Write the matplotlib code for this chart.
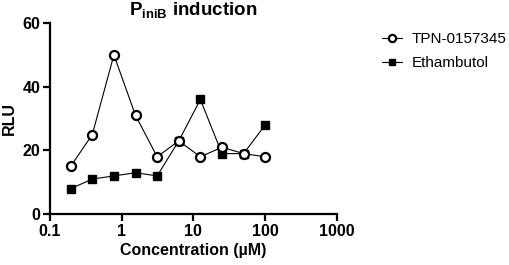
import matplotlib
matplotlib.use('Agg')
import matplotlib.pyplot as plt
from matplotlib.ticker import NullLocator, FixedFormatter

conc = [0.195, 0.39, 0.78, 1.56, 3.125, 6.25, 12.5, 25, 50, 100]
tpn = [15, 25, 50, 31, 18, 23, 18, 21, 19, 18]
emb = [8, 11, 12, 13, 12, 23, 36, 19, 19, 28]
xticks = [0.1, 1, 10, 100, 1000]
xlabels = ['0.1', '1', '10', '100', '1000']
yticks = [0, 20, 40, 60]

plt.rcParams['font.family'] = ['Liberation Sans', 'DejaVu Sans']
plt.rcParams['mathtext.fontset'] = 'custom'
plt.rcParams['mathtext.bf'] = 'Liberation Sans:bold'
plt.rcParams['mathtext.rm'] = 'Liberation Sans:bold'

fig = plt.figure(figsize=(5.09, 2.65), dpi=100)
ax = fig.add_axes([0.098, 0.192, 0.564, 0.721])

ax.plot(conc, tpn, color='black', lw=0.8, marker='o', ms=6.5,
        mfc='white', mec='black', mew=1.6, label='TPN-0157345', zorder=3)
ax.plot(conc, emb, color='black', lw=0.8, marker='s', ms=6,
        mfc='black', mec='black', label='Ethambutol', zorder=2)

ax.set_xscale('log')
ax.set_xlim(0.1, 1000)
ax.set_ylim(0, 60)
ax.set_xticks(xticks)
ax.xaxis.set_major_formatter(FixedFormatter(xlabels))
ax.xaxis.set_minor_locator(NullLocator())
ax.set_yticks(yticks)

for s in ['top', 'right']:
    ax.spines[s].set_visible(False)
for s in ['left', 'bottom']:
    ax.spines[s].set_linewidth(1.6)
ax.tick_params(width=1.6, length=5, labelsize=11.5, pad=2)
for lab in ax.get_xticklabels() + ax.get_yticklabels():
    lab.set_fontweight('bold')

ax.set_xlabel('Concentration (\u00b5M)', fontsize=11.5, fontweight='bold', labelpad=3)
ax.set_ylabel('RLU', fontsize=11.5, fontweight='bold', labelpad=4)
ax.set_title(r'$\mathbf{P_{iniB}}$ induction', fontsize=13.5, fontweight='bold', pad=6)

fig.legend(loc='upper left', bbox_to_anchor=(0.745, 0.89), frameon=False,
           fontsize=11, handlelength=1.3, handletextpad=0.65, labelspacing=0.65,
           markerscale=0.8, borderaxespad=0, borderpad=0.2)

fig.savefig('out.png', dpi=100)
